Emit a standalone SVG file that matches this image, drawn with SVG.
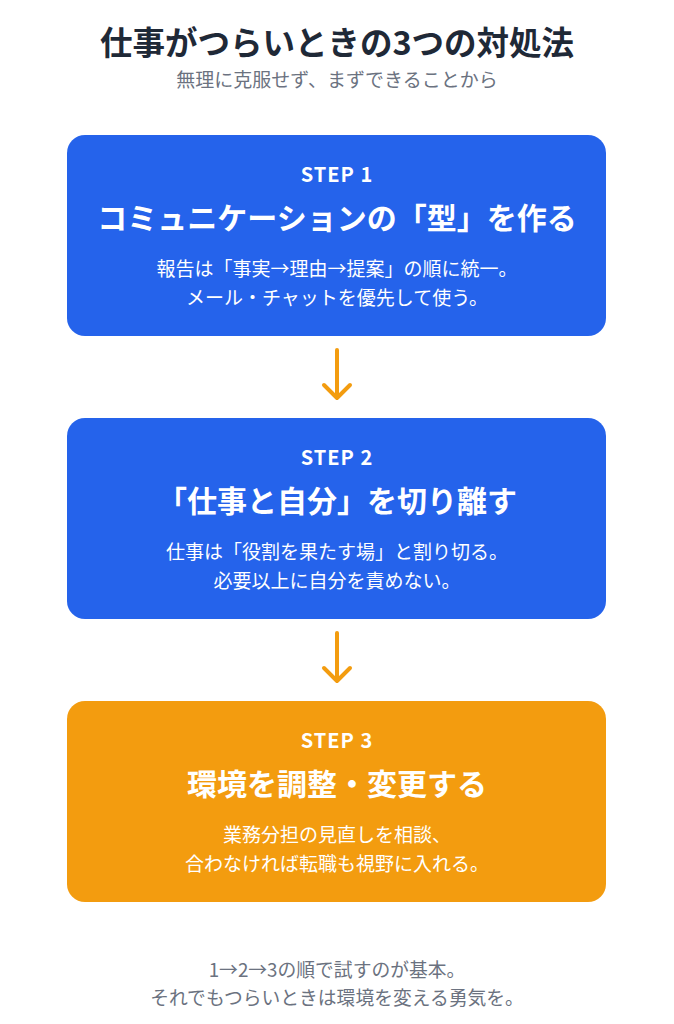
<svg xmlns="http://www.w3.org/2000/svg" width="674" height="1024" viewBox="0 0 674 1024">
<style>
text{font-family:"Noto Sans CJK JP","Noto Sans",sans-serif;text-anchor:middle}
.title{font-size:32.5px;font-weight:700;fill:#1f2937}
.sub{font-size:19px;fill:#6b7280}
.step{font-size:20px;font-weight:700;fill:#fff;letter-spacing:1px}
.head{font-size:30px;font-weight:700;fill:#fff}
.body{font-size:19px;fill:#fff}
.foot{font-size:18.8px;fill:#6b7280}
.blue{fill:#2563eb}
.orange{fill:#f39c0f}
.arr{stroke:#f39c0f;stroke-width:4;fill:none;stroke-linecap:round;stroke-linejoin:round}
</style>
<rect width="674" height="1024" fill="#fff"/>
<g id="header">
<text class="title" x="337" y="55">仕事がつらいときの3つの対処法</text>
<text class="sub" x="337" y="87">無理に克服せず、まずできることから</text>
</g>
<g id="step1">
<rect class="blue" x="67" y="135" width="539" height="201" rx="18"/>
<text class="step" x="337" y="182">STEP 1</text>
<text class="head" x="337" y="229">コミュニケーションの「型」を作る</text>
<text class="body" x="337" y="276">報告は「事実→理由→提案」の順に統一。</text>
<text class="body" x="337" y="305">メール・チャットを優先して使う。</text>
</g>
<g id="step2">
<rect class="blue" x="67" y="418" width="539" height="201" rx="18"/>
<text class="step" x="337" y="465">STEP 2</text>
<text class="head" x="337" y="512">「仕事と自分」を切り離す</text>
<text class="body" x="337" y="559">仕事は「役割を果たす場」と割り切る。</text>
<text class="body" x="337" y="588">必要以上に自分を責めない。</text>
</g>
<g id="step3">
<rect class="orange" x="67" y="701" width="539" height="201" rx="18"/>
<text class="step" x="337" y="748">STEP 3</text>
<text class="head" x="337" y="795">環境を調整・変更する</text>
<text class="body" x="337" y="842">業務分担の見直しを相談、</text>
<text class="body" x="337" y="871">合わなければ転職も視野に入れる。</text>
</g>
<g id="connectors">
<path class="arr" d="M337 350V398M324 385L337 398L350 385"/>
<path class="arr" d="M337 633V681M324 668L337 681L350 668"/>
</g>
<g id="footer">
<text class="foot" x="337" y="977">1→2→3の順で試すのが基本。</text>
<text class="foot" x="337" y="1005">それでもつらいときは環境を変える勇気を。</text>
</g>
</svg>
